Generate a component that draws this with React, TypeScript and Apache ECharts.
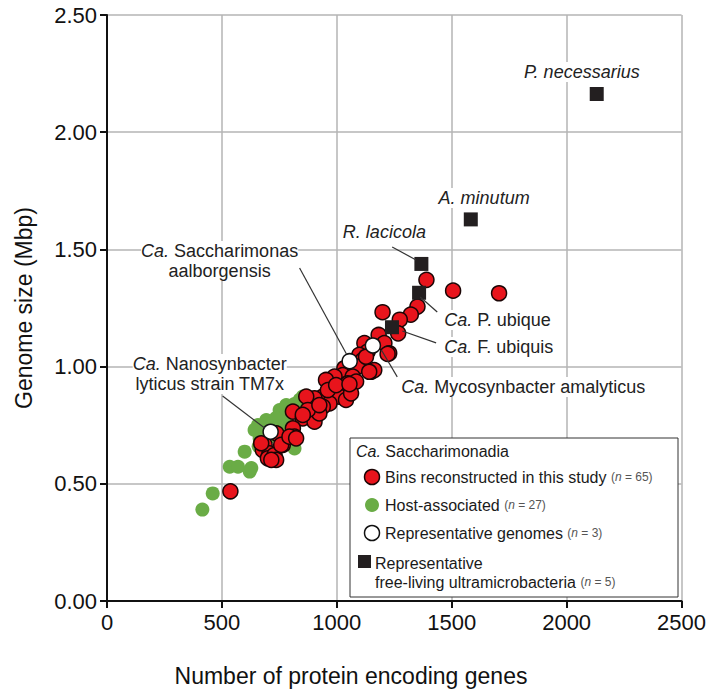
import React, { useEffect, useRef } from 'react';
import * as echarts from 'echarts';

const FONT = '"Liberation Sans", Arial, Helvetica, sans-serif';

// Ca. Saccharimonadia bins reconstructed in this study (n = 65)
const binsReconstructed: [number, number][] = [
  [1390, 1.37], [1506, 1.324], [1706, 1.313], [1199, 1.232], [1351, 1.256],
  [1322, 1.222], [1274, 1.2], [1182, 1.135], [1267, 1.142], [1207, 1.1],
  [1228, 1.057], [1120, 1.1], [1134, 1.064], [1098, 1.05], [1113, 1.028],
  [1091, 1.0], [1149, 0.978], [1163, 0.985], [1033, 0.993], [1026, 0.964],
  [990, 0.957], [1069, 0.957], [953, 0.943], [1048, 0.929], [1084, 0.936],
  [1004, 0.914], [968, 0.9], [1055, 0.886], [939, 0.872], [1011, 0.872],
  [968, 0.843], [1040, 0.858], [939, 0.829], [903, 0.865], [867, 0.872],
  [809, 0.808], [852, 0.779], [903, 0.765], [924, 0.8], [874, 0.815],
  [809, 0.737], [816, 0.701], [765, 0.666], [737, 0.715], [686, 0.666],
  [678, 0.644], [707, 0.63], [700, 0.609], [729, 0.623], [736, 0.602],
  [715, 0.602], [671, 0.673], [758, 0.666], [794, 0.701], [823, 0.694],
  [852, 0.794], [924, 0.836], [961, 0.9], [997, 0.921], [1062, 0.886],
  [1141, 0.978], [537, 0.468], [1127, 1.042], [1221, 1.054], [1055, 0.925],
];

// Host-associated (n = 27)
const hostAssociated: [number, number][] = [
  [415, 0.39], [460, 0.459], [534, 0.573], [570, 0.573], [621, 0.552],
  [599, 0.637], [657, 0.751], [693, 0.772], [765, 0.794], [838, 0.858],
  [852, 0.872], [816, 0.651], [751, 0.815], [664, 0.694], [780, 0.836],
  [700, 0.74], [720, 0.76], [680, 0.72], [642, 0.73], [800, 0.82],
  [735, 0.78], [790, 0.75], [705, 0.7], [660, 0.66], [745, 0.74],
  [815, 0.84], [628, 0.567],
];

// Representative genomes (n = 3)
const representativeGenomes: [number, number][] = [
  [712, 0.722], [1056, 1.023], [1157, 1.09],
];

// Representative free-living ultramicrobacteria (n = 5)
const freeLiving: [number, number][] = [
  [2131, 2.163], [1583, 1.628], [1368, 1.438], [1358, 1.315], [1240, 1.168],
];

const xTicks = [0, 2500, 500];
const yTicks = [0, 2.5, 0.5];

// annotation labels, in data coordinates
const labelTexts = [
  { text: '{i|P. necessarius}', at: [2066, 2.257], align: 'center' },
  { text: '{i|A. minutum}', at: [1641, 1.719], align: 'center' },
  { text: '{i|R. lacicola}', at: [1207, 1.574], align: 'center' },
  { text: '{i|Ca.} Saccharimonas\naalborgensis', at: [490, 1.45], align: 'center' },
  { text: '{i|Ca.} Nanosynbacter\nlyticus strain TM7x', at: [447, 0.968], align: 'center' },
  { text: '{i|Ca.} P. ubique', at: [1467, 1.199], align: 'left' },
  { text: '{i|Ca.} F. ubiquis', at: [1467, 1.084], align: 'left' },
  { text: '{i|Ca.} Mycosynbacter amalyticus', at: [1280, 0.913], align: 'left' },
];

// leader lines, in data coordinates
const leaderLines: [number, number][][] = [
  [[1241, 1.51], [1345, 1.455]],
  [[838, 1.421], [1042, 1.054]],
  [[503, 0.875], [686, 0.738]],
  [[1363, 1.297], [1437, 1.233]],
  [[1285, 1.152], [1432, 1.101]],
  [[1194, 1.071], [1263, 0.956]],
];

const RED = '#e8141c';
const GREEN = '#6aac46';
const SQUARE = '#231f20';

export default function App() {
  const ref = useRef<HTMLDivElement>(null);
  useEffect(() => {
    if (!ref.current) return;
    const chart = echarts.init(ref.current, undefined, { renderer: 'svg' });
    const axisCommon = {
      axisLine: { show: true, lineStyle: { color: '#111', width: 2 } },
      axisTick: { show: true, inside: false, length: 7, lineStyle: { color: '#111', width: 2 } },
      splitLine: { show: true, lineStyle: { color: '#b5b5b5', width: 1.5 } },
    };
    chart.setOption({
      animation: false,
      backgroundColor: '#fff',
      grid: { left: 107, top: 15, right: 26, bottom: 93 },
      xAxis: {
        type: 'value',
        min: xTicks[0], max: xTicks[1], interval: xTicks[2],
        ...axisCommon,
        axisLabel: {
          fontSize: 22, color: '#111', fontFamily: FONT, margin: 10,
          formatter: (v: number) => String(v),
        },
      },
      yAxis: {
        type: 'value',
        min: yTicks[0], max: yTicks[1], interval: yTicks[2],
        ...axisCommon,
        axisLabel: {
          fontSize: 22, color: '#111', fontFamily: FONT, margin: 10,
          formatter: (v: number) => v.toFixed(2),
        },
        name: 'Genome size (Mbp)',
        nameLocation: 'middle',
        nameGap: 72,
        nameTextStyle: { fontSize: 23, color: '#111', fontFamily: FONT },
      },
      series: [
        {
          type: 'scatter', name: 'Host-associated', data: hostAssociated,
          symbolSize: 14, itemStyle: { color: GREEN, opacity: 1 }, z: 2,
        },
        {
          type: 'scatter', name: 'Bins', data: binsReconstructed,
          symbolSize: 15,
          itemStyle: { color: RED, borderColor: '#1b0505', borderWidth: 1.5, opacity: 1 }, z: 3,
        },
        {
          type: 'scatter', name: 'Representative genomes', data: representativeGenomes,
          symbolSize: 15,
          itemStyle: { color: '#fff', borderColor: '#111', borderWidth: 1.5, opacity: 1 }, z: 4,
        },
        {
          type: 'scatter', name: 'Free-living', data: freeLiving,
          symbol: 'rect', symbolSize: 14,
          itemStyle: { color: SQUARE, opacity: 1 }, z: 5,
        },
      ],
    });

    const toPx = (p: number[]) => chart.convertToPixel({ gridIndex: 0 }, p) as number[];
    const graphics: any[] = [];
    leaderLines.forEach((seg) => {
      const a = toPx(seg[0]);
      const b = toPx(seg[1]);
      graphics.push({
        type: 'line', z: 10,
        shape: { x1: a[0], y1: a[1], x2: b[0], y2: b[1] },
        style: { stroke: '#333', lineWidth: 1.2 },
      });
    });
    labelTexts.forEach((l) => {
      const p = toPx(l.at);
      graphics.push({
        type: 'text', z: 11, x: p[0], y: p[1],
        style: {
          text: l.text, fontSize: 18, fontFamily: FONT, fill: '#222',
          align: l.align, verticalAlign: 'middle', lineHeight: 20,
          backgroundColor: '#fff',
          rich: { i: { fontStyle: 'italic', fontSize: 18, fontFamily: FONT, fill: '#222' } },
        },
      });
    });

    // x axis title
    graphics.push({
      type: 'text', z: 11, x: 351, y: 676,
      style: {
        text: 'Number of protein encoding genes', fontSize: 23, fontFamily: FONT,
        fill: '#111', align: 'center', verticalAlign: 'middle',
      },
    });

    // legend box
    const lx = 350, ly = 438, lw = 328, lh = 159;
    const rowStyle = {
      fontSize: 16, fontFamily: FONT, fill: '#1a1a1a', verticalAlign: 'middle',
      rich: {
        i: { fontStyle: 'italic', fontSize: 16, fontFamily: FONT, fill: '#1a1a1a' },
        s: { fontSize: 12, fontFamily: FONT, fill: '#555' },
        si: { fontSize: 12, fontFamily: FONT, fill: '#555', fontStyle: 'italic' },
      },
    };
    graphics.push(
      { type: 'rect', z: 20, shape: { x: lx, y: ly, width: lw, height: lh },
        style: { fill: '#fff', stroke: '#333', lineWidth: 1 } },
      { type: 'text', z: 21, x: 356, y: 451, style: { ...rowStyle, text: '{i|Ca.} Saccharimonadia' } },
      { type: 'circle', z: 21, shape: { cx: 372, cy: 477, r: 7.5 },
        style: { fill: RED, stroke: '#1b0505', lineWidth: 1.5 } },
      { type: 'text', z: 21, x: 385, y: 477,
        style: { ...rowStyle, text: 'Bins reconstructed in this study {s|(}{si|n}{s| = 65)}' } },
      { type: 'circle', z: 21, shape: { cx: 372, cy: 505, r: 7 }, style: { fill: GREEN } },
      { type: 'text', z: 21, x: 385, y: 505,
        style: { ...rowStyle, text: 'Host-associated {s|(}{si|n}{s| = 27)}' } },
      { type: 'circle', z: 21, shape: { cx: 372, cy: 533, r: 7.5 },
        style: { fill: '#fff', stroke: '#111', lineWidth: 1.5 } },
      { type: 'text', z: 21, x: 385, y: 533,
        style: { ...rowStyle, text: 'Representative genomes {s|(}{si|n}{s| = 3)}' } },
      { type: 'rect', z: 21, shape: { x: 358, y: 555, width: 13, height: 13 }, style: { fill: SQUARE } },
      { type: 'text', z: 21, x: 375, y: 563, style: { ...rowStyle, text: 'Representative' } },
      { type: 'text', z: 21, x: 375, y: 582,
        style: { ...rowStyle, text: 'free-living ultramicrobacteria {s|(}{si|n}{s| = 5)}' } },
    );
    chart.setOption({ graphic: graphics });

    return () => chart.dispose();
  }, []);
  return (
    <div
      ref={ref}
      style={{ position: 'fixed', left: 0, top: 0, width: 709, height: 694, background: '#fff' }}
    />
  );
}
